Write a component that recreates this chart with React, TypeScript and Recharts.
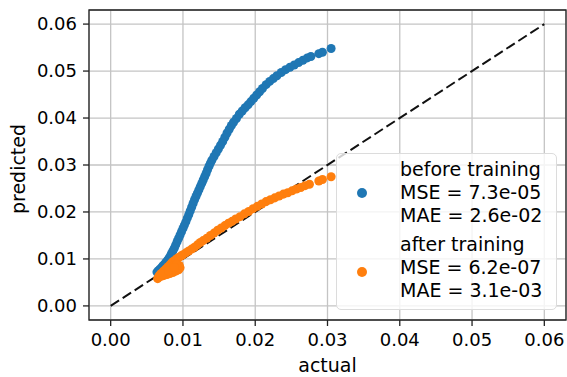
import {
  CartesianGrid,
  Legend,
  ReferenceArea,
  Scatter,
  ScatterChart,
  XAxis,
  YAxis,
  ZAxis,
} from "recharts";

// actual vs predicted, before training
const beforeActual = [
  0.0064, 0.0066, 0.0068, 0.007, 0.0072, 0.0074, 0.0076, 0.0078, 0.008, 0.0082,
  0.0084, 0.0086, 0.0088, 0.009, 0.0092, 0.0094, 0.0096, 0.0098, 0.01, 0.0102,
  0.0104, 0.0106, 0.0108, 0.011, 0.0112, 0.0114, 0.0116, 0.0118, 0.012, 0.0122,
  0.0124, 0.0126, 0.0128, 0.013, 0.0132, 0.0134, 0.0136, 0.0138, 0.014, 0.0143,
  0.0146, 0.0149, 0.0152, 0.0155, 0.0158, 0.0161, 0.0164, 0.0167, 0.017, 0.0174,
  0.0178, 0.0182, 0.0186, 0.019, 0.0194, 0.0198, 0.0202, 0.0206, 0.021, 0.0215,
  0.022, 0.0225, 0.023, 0.0236, 0.0242, 0.0248, 0.0254, 0.026, 0.0266, 0.0272,
  0.0277, 0.0288, 0.0293, 0.0305,
];
const beforePredicted = [
  0.0072, 0.0075, 0.0078, 0.0081, 0.0085, 0.0088, 0.0092, 0.0096, 0.01, 0.0105,
  0.0111, 0.0117, 0.0123, 0.013, 0.0137, 0.0144, 0.0151, 0.0158, 0.0165, 0.0172,
  0.0179, 0.0187, 0.0194, 0.0202, 0.021, 0.0218, 0.0226, 0.0233, 0.024, 0.0247,
  0.0254, 0.0261, 0.0268, 0.0275, 0.0282, 0.029, 0.0297, 0.0304, 0.031, 0.0318,
  0.0326, 0.0334, 0.0342, 0.035, 0.0359, 0.0368, 0.0376, 0.0384, 0.0391, 0.0399,
  0.0408, 0.0415, 0.0422, 0.0428, 0.0435, 0.0442, 0.0449, 0.0456, 0.0463, 0.0471,
  0.0478, 0.0484, 0.049, 0.0497, 0.0503, 0.0508, 0.0513, 0.0518, 0.0523, 0.0528,
  0.0531, 0.0537, 0.054, 0.0548,
];

// actual vs predicted, after training
const afterActual = [
  0.0065, 0.0066, 0.0067, 0.0068, 0.007, 0.0072, 0.0074, 0.0076, 0.0078, 0.008,
  0.0082, 0.0084, 0.0086, 0.0088, 0.009, 0.0092, 0.0094, 0.0097, 0.01, 0.0104,
  0.0108, 0.0112, 0.0116, 0.012, 0.0124, 0.0128, 0.0133, 0.0138, 0.0143, 0.0148,
  0.0153, 0.0158, 0.0163, 0.0168, 0.0173, 0.0179, 0.0185, 0.0191, 0.0197, 0.0203,
  0.0209, 0.0215, 0.0221, 0.0227, 0.0233, 0.0239, 0.0245, 0.0251, 0.0257, 0.0263,
  0.0269, 0.0275, 0.0288, 0.0293, 0.0305,
  0.007, 0.0074, 0.0078, 0.0082, 0.0086, 0.009, 0.0094, 0.0096, 0.0095, 0.0091,
  0.0072, 0.008, 0.0088,
];
const afterPredicted = [
  0.0058, 0.0061, 0.0064, 0.0066, 0.0069, 0.0072, 0.0075, 0.0078, 0.0081, 0.0084,
  0.0087, 0.0091, 0.0094, 0.0096, 0.0098, 0.0101, 0.0103, 0.0106, 0.0109, 0.0113,
  0.0117, 0.0121, 0.0125, 0.013, 0.0135, 0.0139, 0.0144, 0.015, 0.0155, 0.0161,
  0.0166, 0.0171, 0.0176, 0.018, 0.0185, 0.019, 0.0196, 0.0201, 0.0207, 0.0212,
  0.0217, 0.0222, 0.0226, 0.023, 0.0234, 0.0238, 0.0241, 0.0245, 0.0249, 0.0252,
  0.0256, 0.0259, 0.0266, 0.0269, 0.0275,
  0.0063, 0.0065, 0.0067, 0.0069, 0.0071, 0.0074, 0.0077, 0.0081, 0.0086, 0.0089,
  0.0068, 0.0075, 0.0082,
];

// y = x reference
const identityEnds = [0, 0.06];

const ticks = [0, 0.01, 0.02, 0.03, 0.04, 0.05, 0.06];
const domain = [-0.003, 0.063];

const beforeLines = ["before training", "MSE = 7.3e-05", "MAE = 2.6e-02"];
const afterLines = ["after training", "MSE = 6.2e-07", "MAE = 3.1e-03"];

const BLUE = "#1f77b4";
const ORANGE = "#ff7f0e";
const FONT = "'DejaVu Sans', sans-serif";

const toPoints = (xs: number[], ys: number[]) => xs.map((x, i) => ({ x, y: ys[i] }));

function LegendBox() {
  const marker = (top: number, color: string) => (
    <div
      style={{
        position: "absolute",
        left: 20,
        top,
        width: 10,
        height: 10,
        borderRadius: "50%",
        background: color,
      }}
    />
  );
  const block = (top: number, lines: string[]) => (
    <div style={{ position: "absolute", left: 63, top, whiteSpace: "nowrap" }}>
      {lines.map((l) => (
        <div key={l}>{l}</div>
      ))}
    </div>
  );
  return (
    <div
      style={{
        position: "relative",
        width: 221,
        height: 157,
        boxSizing: "border-box",
        border: "1px solid #dcdcdc",
        borderRadius: 5,
        background: "rgba(255,255,255,0.8)",
        fontFamily: FONT,
        fontSize: 19,
        lineHeight: "22.8px",
        color: "#000",
      }}
    >
      {marker(34, BLUE)}
      {block(4, beforeLines)}
      {marker(113, ORANGE)}
      {block(79, afterLines)}
    </div>
  );
}

export default function App() {
  const tickStyle = { fontSize: 18, fill: "#000", fontFamily: FONT };
  return (
    <div
      style={{
        position: "absolute",
        left: 0,
        top: 0,
        width: 567,
        height: 377,
        background: "#fff",
        overflow: "hidden",
      }}
    >
      <ScatterChart
        width={567}
        height={377}
        margin={{ top: 10, right: 1, bottom: 0, left: 0 }}
        style={{ fontFamily: FONT }}
      >
        <CartesianGrid stroke="#c4c4c4" strokeWidth={1.3} />
        <XAxis
          type="number"
          dataKey="x"
          domain={domain}
          ticks={ticks}
          interval={0}
          allowDataOverflow
          height={57}
          axisLine={false}
          tickSize={6}
          tickMargin={7}
          tickLine={{ stroke: "#222", strokeWidth: 1.3 }}
          tick={tickStyle}
          tickFormatter={(v: number) => v.toFixed(2)}
          label={{
            value: "actual",
            position: "insideBottom",
            offset: 5,
            fontSize: 19,
            fill: "#000",
            fontFamily: FONT,
          }}
        />
        <YAxis
          type="number"
          dataKey="y"
          domain={domain}
          ticks={ticks}
          interval={0}
          allowDataOverflow
          width={89}
          axisLine={false}
          tickSize={6}
          tickMargin={6}
          tickLine={{ stroke: "#222", strokeWidth: 1.3 }}
          tick={tickStyle}
          tickFormatter={(v: number) => v.toFixed(2)}
          label={{
            content: ({ viewBox }: any) => (
              <text
                x={viewBox.x + 18}
                y={viewBox.y + viewBox.height / 2 + 4}
                transform={`rotate(-90, ${viewBox.x + 18}, ${viewBox.y + viewBox.height / 2 + 4})`}
                textAnchor="middle"
                dominantBaseline="central"
                fontSize={19}
                fill="#000"
                fontFamily={FONT}
              >
                predicted
              </text>
            ),
          }}
        />
        <ZAxis range={[95, 95]} />
        <Scatter
          data={toPoints(identityEnds, identityEnds)}
          line={{ stroke: "#111", strokeWidth: 2, strokeDasharray: "10 4.3" }}
          shape={() => <g />}
          isAnimationActive={false}
        />
        <Scatter
          data={toPoints(beforeActual, beforePredicted)}
          fill={BLUE}
          isAnimationActive={false}
        />
        <Scatter
          data={toPoints(afterActual, afterPredicted)}
          fill={ORANGE}
          isAnimationActive={false}
        />
        <ReferenceArea
          x1={domain[0]}
          x2={domain[1]}
          y1={domain[0]}
          y2={domain[1]}
          fill="none"
          stroke="#222"
          strokeWidth={1.3}
          ifOverflow="visible"
        />
        <Legend
          layout="vertical"
          align="center"
          verticalAlign="middle"
          wrapperStyle={{ left: 336, top: 153, width: 221, height: 157 }}
          content={() => <LegendBox />}
        />
      </ScatterChart>
    </div>
  );
}
